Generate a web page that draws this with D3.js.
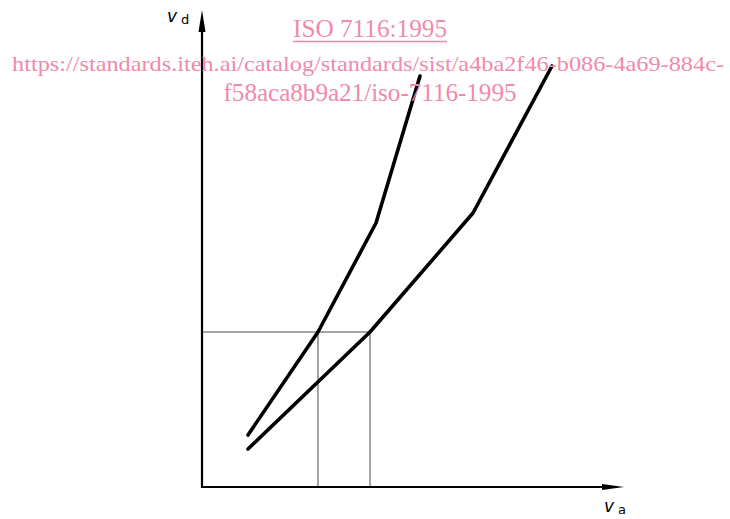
<!DOCTYPE html>
<html><head><meta charset="utf-8">
<script src="https://cdn.jsdelivr.net/npm/d3@7"></script>
<style>html,body{margin:0;padding:0;background:#fff;}</style>
</head><body>
<svg id="c" width="730" height="519"></svg>
<script>
// Data (arbitrary units)
const curveSteep = [[46, 52], [116, 155], [174, 264], [218, 411]];
const curveFlat  = [[46, 38], [168, 155], [271, 274], [350, 421]];
const guideY = 155;
const guideX = [116, 168];
const xLabel = ["v", "a"];
const yLabel = ["v", "d"];
const watermark = ["ISO 7116:1995",
  "https://standards.iteh.ai/catalog/standards/sist/a4ba2f46-b086-4a69-884c-",
  "f58aca8b9a21/iso-7116-1995"];

const svg = d3.select("#c");
const x = d3.scaleLinear().domain([0, 422]).range([202, 624]);
const y = d3.scaleLinear().domain([0, 477]).range([487, 10]);

// guide lines
const g = svg.append("g").attr("stroke", "#333").attr("stroke-width", 0.9).attr("fill", "none");
g.append("line").attr("x1", x(0)).attr("x2", x(guideX[1])).attr("y1", y(guideY)).attr("y2", y(guideY));
guideX.forEach(v => g.append("line").attr("x1", x(v)).attr("x2", x(v)).attr("y1", y(guideY)).attr("y2", y(0)));

// axes
svg.append("line").attr("x1", x(0)).attr("x2", x(0)).attr("y1", y(0)+1).attr("y2", y(477)+14)
  .attr("stroke", "#000").attr("stroke-width", 2.2);
svg.append("line").attr("x1", x(0)-1).attr("x2", x(422)-14).attr("y1", y(0)).attr("y2", y(0))
  .attr("stroke", "#000").attr("stroke-width", 2.2);
svg.append("path").attr("d", `M${x(0)},${y(477)} L${x(0)-3.5},${y(477)+22} L${x(0)+3.5},${y(477)+22} Z`).attr("fill", "#000");
svg.append("path").attr("d", `M${x(422)},${y(0)} L${x(422)-22},${y(0)-3} L${x(422)-22},${y(0)+3} Z`).attr("fill", "#000");

// curves
const line = d3.line().x(d => x(d[0])).y(d => y(d[1]));
[curveSteep, curveFlat].forEach(c => svg.append("path").attr("d", line(c))
  .attr("fill", "none").attr("stroke", "#000").attr("stroke-width", 3.6)
  .attr("stroke-linecap", "round").attr("stroke-linejoin", "round"));

// axis labels
function lab(px, py, t) {
  const tx = svg.append("text").attr("x", px).attr("y", py).attr("font-family", "DejaVu Sans, Liberation Sans, sans-serif").attr("fill", "#000");
  tx.append("tspan").text(t[0]).attr("font-size", 17).attr("font-style", "italic");
  tx.append("tspan").text(t[1]).attr("font-size", 13).attr("dx", 4).attr("dy", 2);
}
lab(167, 22, yLabel);
lab(604, 512, xLabel);

// watermark
const pink = "#f08aab";
const wm = svg.append("g").attr("font-family", "Liberation Serif, Times New Roman, serif").attr("fill", pink).attr("text-anchor", "middle").attr("font-size", 26);
wm.append("text").attr("x", 370).attr("y", 37).attr("textLength", 154).attr("lengthAdjust", "spacingAndGlyphs").text(watermark[0]);
svg.append("line").attr("x1", 293).attr("x2", 447).attr("y1", 41.5).attr("y2", 41.5).attr("stroke", pink).attr("stroke-width", 1.4);
wm.append("text").attr("x", 368).attr("y", 71).attr("font-size", 22).attr("textLength", 712).attr("lengthAdjust", "spacingAndGlyphs").text(watermark[1]);
wm.append("text").attr("x", 370).attr("y", 101).attr("textLength", 293).attr("lengthAdjust", "spacingAndGlyphs").text(watermark[2]);
</script>
</body></html>
